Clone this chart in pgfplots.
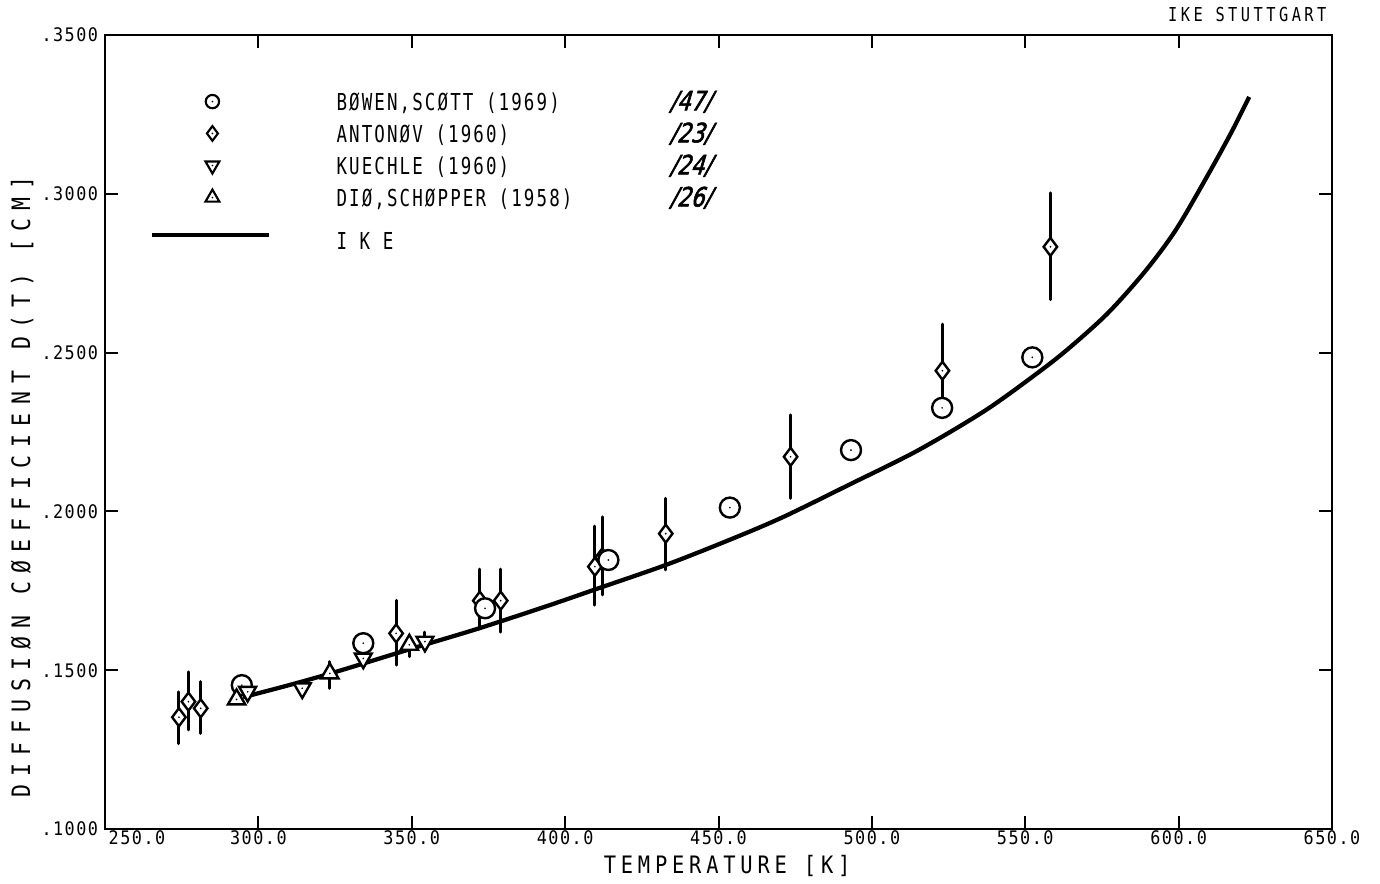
\documentclass[border=0pt]{standalone}
\usepackage{fontspec}
\usepackage{pgfplots}
\pgfplotsset{compat=1.18}
\setmainfont{DejaVu Sans Mono}
\newfontfamily\tickff[FakeStretch=0.9,LetterSpace=8]{DejaVu Sans Mono}
\newfontfamily\xlabff[FakeStretch=0.85,LetterSpace=20]{DejaVu Sans Mono}
\newfontfamily\ylabff[FakeStretch=0.85,LetterSpace=32]{DejaVu Sans Mono}
\newfontfamily\legff[FakeStretch=0.75,LetterSpace=9]{DejaVu Sans Mono}
\newfontfamily\titff[FakeStretch=0.8,LetterSpace=18]{DejaVu Sans Mono}
\newfontfamily\refff[FakeSlant=0.3,FakeBold=2,FakeStretch=0.8]{DejaVu Sans}
\newcommand\fTick{\tickff\fontsize{14pt}{16pt}\selectfont}
\newcommand\fXlab{\xlabff\fontsize{18pt}{20pt}\selectfont}
\newcommand\fYlab{\ylabff\fontsize{19pt}{21pt}\selectfont}
\newcommand\fLeg{\legff\fontsize{17.5pt}{19pt}\selectfont}
\newcommand\fTit{\titff\fontsize{14.4pt}{16pt}\selectfont}
\newcommand\fRef{\refff\fontsize{20pt}{22pt}\selectfont}
\newcommand\legtext[2]{\hspace*{48.75pt}\makebox[249.75pt][l]{\fLeg #1}{\fRef #2}}

\pgfdeclareplotmark{circdot}{%
  \pgfsetfillcolor{white}%
  \pgfpathcircle{\pgfpointorigin}{\pgfplotmarksize}\pgfusepathqfillstroke
  \pgfsetfillcolor{black}\pgfpathcircle{\pgfpointorigin}{0.7pt}\pgfusepathqfill}
\pgfdeclareplotmark{diamdot}{%
  \pgfsetfillcolor{white}%
  \pgfpathmoveto{\pgfqpoint{0pt}{\pgfplotmarksize}}%
  \pgfpathlineto{\pgfqpoint{.75\pgfplotmarksize}{0pt}}%
  \pgfpathlineto{\pgfqpoint{0pt}{-\pgfplotmarksize}}%
  \pgfpathlineto{\pgfqpoint{-.75\pgfplotmarksize}{0pt}}%
  \pgfpathclose\pgfusepathqfillstroke
  \pgfsetfillcolor{black}\pgfpathcircle{\pgfpointorigin}{0.7pt}\pgfusepathqfill}
\pgfdeclareplotmark{tridown}{%
  \pgfsetfillcolor{white}%
  \pgfpathmoveto{\pgfqpointpolar{-90}{\pgfplotmarksize}}%
  \pgfpathlineto{\pgfqpointpolar{30}{\pgfplotmarksize}}%
  \pgfpathlineto{\pgfqpointpolar{150}{\pgfplotmarksize}}%
  \pgfpathclose\pgfusepathqfillstroke
  \pgfsetfillcolor{black}\pgfpathcircle{\pgfpointorigin}{0.7pt}\pgfusepathqfill}
\pgfdeclareplotmark{triup}{%
  \pgfsetfillcolor{white}%
  \pgfpathmoveto{\pgfqpointpolar{90}{\pgfplotmarksize}}%
  \pgfpathlineto{\pgfqpointpolar{210}{\pgfplotmarksize}}%
  \pgfpathlineto{\pgfqpointpolar{330}{\pgfplotmarksize}}%
  \pgfpathclose\pgfusepathqfillstroke
  \pgfsetfillcolor{black}\pgfpathcircle{\pgfpointorigin}{0.7pt}\pgfusepathqfill}

\begin{document}
\begin{tikzpicture}
\begin{axis}[
  at={(0pt,0pt)}, anchor=south west,
  scale only axis, width=920.25pt, height=595.5pt,
  xmin=250, xmax=650, ymin=0.1, ymax=0.35,
  axis line style={line width=1.6pt},
  xtick={250,300,350,400,450,500,550,600,650},
  xticklabels={\hspace*{48pt}250.0,300.0,350.0,400.0,450.0,500.0,550.0,600.0,650.0},
  ytick={0.1,0.15,0.2,0.25,0.3,0.35},
  yticklabels={.1000,.1500,.2000,.2500,.3000,.3500},
  tick align=inside, major tick length=10pt,
  every tick/.style={line width=1.5pt, black},
  x tick label style={font=\fTick, inner sep=1pt},
  y tick label style={font=\fTick, inner sep=1pt, xshift=-4pt},
  xlabel={TEMPERATURE [K]},
  ylabel={DIFFUSIØN CØEFFICIENT D(T) [CM]},
  every axis x label/.style={at={(rel axis cs:0.507,-0.0466)}, anchor=center, font=\fXlab},
  every axis y label/.style={at={(rel axis cs:-0.0676,0.431)}, rotate=90, anchor=center, font=\fYlab},
  clip=false,
  legend style={at={(rel axis cs:0.0367,0.93)}, anchor=north west, draw=none, fill=none,
    inner sep=0pt, row sep=7.7pt, nodes={inner sep=0pt}},
  legend cell align=left,
  legend image code/.code={\draw[mark repeat=2,mark phase=2,#1] plot coordinates {(-45pt,0pt) (0pt,0pt) (42.75pt,0pt)};},
]
% legend entries
\addlegendimage{only marks, mark=circdot, mark size=5pt, line width=1.6pt}
\addlegendentry{\legtext{BØWEN,SCØTT (1969)}{/47/}}
\addlegendimage{only marks, mark=diamdot, mark size=5.5pt, line width=1.6pt}
\addlegendentry{\legtext{ANTONØV (1960)}{/23/}}
\addlegendimage{only marks, mark=tridown, mark size=6pt, line width=1.6pt}
\addlegendentry{\legtext{KUECHLE (1960)}{/24/}}
\addlegendimage{only marks, mark=triup, mark size=6pt, line width=1.6pt}
\addlegendentry{\legtext{DIØ,SCHØPPER (1958)}{/26/}}
\addlegendimage{line width=3.2pt}
\addlegendentry{\hspace*{48.75pt}{\fLeg\rule[-10.5pt]{0pt}{33.5pt}I K E}}

% IKE curve
\addplot[forget plot, line width=3.2pt, smooth, line join=round] table[x=T, y=D] {
T D
295 0.1415
310 0.1453
325 0.1494
350 0.1568
372 0.1632
395 0.1705
410 0.1755
433 0.1832
454 0.1912
471 0.1982
493 0.2086
515 0.2192
537 0.2318
555 0.2443
565 0.2520
577 0.2625
589 0.2755
599 0.2885
609 0.3050
617 0.3190
623 0.3305
};

% Antonov
\addplot[forget plot, only marks, mark=diamdot, mark size=6.75pt, line width=1.8pt,
  error bars/.cd, y dir=both, y explicit, error mark=none,
  error bar style={line width=2.2pt, line cap=round}]
  table[x=T, y=D, y error plus=ep, y error minus=em] {
T D ep em
274.1 0.1352 0.0080 0.0083
277.2 0.1401 0.0094 0.0089
281.2 0.1380 0.0084 0.0079
344.9 0.1616 0.0104 0.0100
372.2 0.1719 0.0099 0.0088
379.0 0.1719 0.0099 0.0099
409.7 0.1826 0.0128 0.0121
412.1 0.1855 0.0128 0.0118
432.8 0.1930 0.0111 0.0114
473.5 0.2172 0.0132 0.0131
523.0 0.2443 0.0147 0.0113
558.2 0.2833 0.0170 0.0166
};

% Bowen, Scott
\addplot[forget plot, only marks, mark=circdot, mark size=7.5pt, line width=1.8pt] table[x=T, y=D] {
T D
294.6 0.1453
334.2 0.1585
373.9 0.1695
414.1 0.1847
453.7 0.2012
493.2 0.2193
522.9 0.2326
552.3 0.2485
};

% Kuechle
\addplot[forget plot, only marks, mark=tridown, mark size=7.3pt, line width=1.8pt,
  error bars/.cd, y dir=both, y explicit, error mark=none,
  error bar style={line width=2.2pt, line cap=round}]
  table[x=T, y=D, y error plus=ep, y error minus=em] {
T D ep em
296.5 0.1432 0 0
314.3 0.1443 0 0
334.2 0.1537 0 0
354.3 0.1590 0.0030 0.0015
};

% Dio, Schopper
\addplot[forget plot, only marks, mark=triup, mark size=7.5pt, line width=1.8pt,
  error bars/.cd, y dir=both, y explicit, error mark=none,
  error bar style={line width=2.2pt, line cap=round}]
  table[x=T, y=D, y error plus=ep, y error minus=em] {
T D ep em
292.9 0.1408 0 0
323.3 0.1490 0.0037 0.0047
349.2 0.1580 0.0015 0.0037
};
\end{axis}
\node[anchor=base east, font=\fTit, inner sep=0pt] at ([xshift=-4pt,yshift=9.75pt]current axis.north east) {IKE STUTTGART};
\pgfresetboundingbox
\path (-78.75pt,-40.5pt) rectangle (956.25pt,621.75pt);
\end{tikzpicture}
\end{document}
